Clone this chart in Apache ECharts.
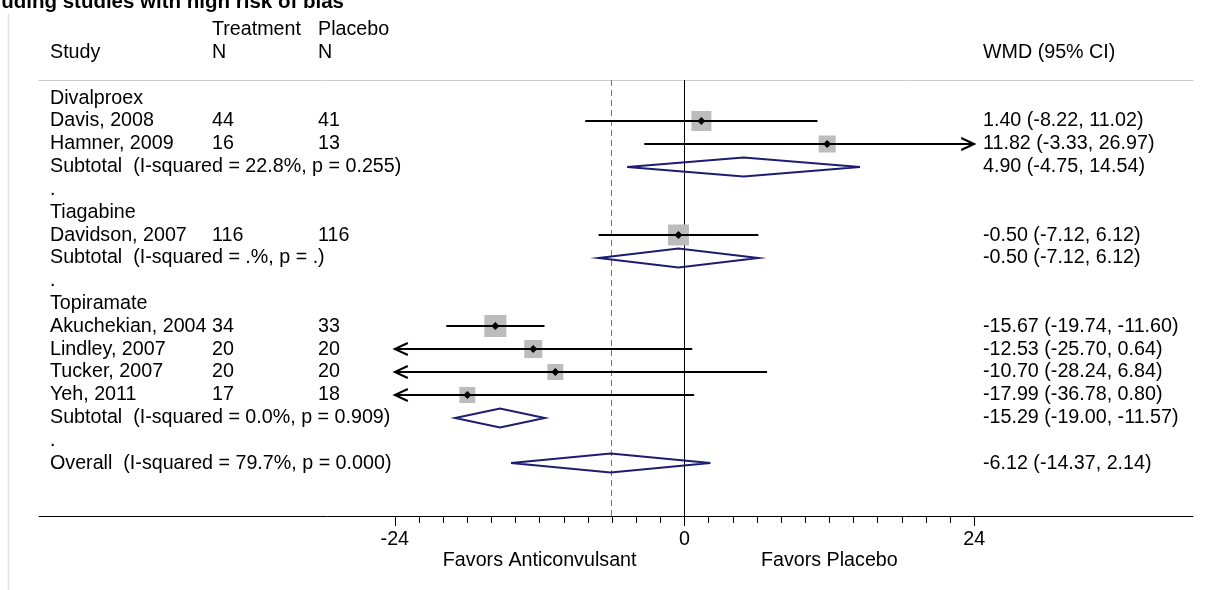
<!DOCTYPE html>
<html><head><meta charset="utf-8">
<script src="https://cdn.jsdelivr.net/npm/echarts@6/dist/echarts.min.js"></script>
<style>html,body{margin:0;padding:0;background:#fff;}#chart{width:1211px;height:590px;}</style>
</head><body><div id="chart"></div>
<script>
// ---------- data ----------
const titleText = 'Excluding studies with high risk of bias';
const headerTop = ['Treatment', 'Placebo'];
const headerBottom = ['Study', 'N', 'N', 'WMD (95% CI)'];
const rowLabels = [
  'Divalproex', 'Davis, 2008', 'Hamner, 2009', 'Subtotal  (I-squared = 22.8%, p = 0.255)', '.',
  'Tiagabine', 'Davidson, 2007', 'Subtotal  (I-squared = .%, p = .)', '.',
  'Topiramate', 'Akuchekian, 2004', 'Lindley, 2007', 'Tucker, 2007', 'Yeh, 2011',
  'Subtotal  (I-squared = 0.0%, p = 0.909)', '.', 'Overall  (I-squared = 79.7%, p = 0.000)'
];
const treatmentN = ['', '44', '16', '', '', '', '116', '', '', '', '34', '20', '20', '17', '', '', ''];
const placeboN   = ['', '41', '13', '', '', '', '116', '', '', '', '33', '20', '20', '18', '', '', ''];

const studyRows   = [1, 2, 6, 10, 11, 12, 13];
const studyEst    = [1.40, 11.82, -0.50, -15.67, -12.53, -10.70, -17.99];
const studyLo     = [-8.22, -3.33, -7.12, -19.74, -25.70, -28.24, -36.78];
const studyHi     = [11.02, 26.97, 6.12, -11.60, 0.64, 6.84, 0.80];
const studyWeight = [16.3, 11.8, 18.0, 19.8, 13.2, 10.4, 10.4];

const pooledRows = [3, 7, 14, 16];
const pooledEst  = [4.90, -0.50, -15.29, -6.12];
const pooledLo   = [-4.75, -7.12, -19.00, -14.37];
const pooledHi   = [14.54, 6.12, -11.57, 2.14];

const overallEst = -6.12;
const nullValue = 0;
const majorTicks = [-24, 0, 24];
const minorTicks = [-24, -22, -20, -18, -16, -14, -12, -10, -8, -6, -4, -2, 0, 2, 4, 6, 8, 10, 12, 14, 16, 18, 20, 22, 24];
const favorLabels = ['Favors Anticonvulsant', 'Favors Placebo'];
const favorPos = [-12, 12];
const clipMin = -24, clipMax = 24;

// ---------- layout ----------
const FONT_FAMILY = '"Liberation Sans", Arial, Helvetica, sans-serif';
const FS = 19.7;
const FONT = FS + 'px ' + FONT_FAMILY;
const X_MIN = -53.48, X_MAX = 42.13;
const Y_MIN = -0.8, Y_MAX = 18.31;
const COL_STUDY = 50, COL_T = 212, COL_P = 318, COL_WMD = 983;
const BOX_SCALE = 4.95;
const fmt = v => v.toFixed(2);

const wmdText = new Array(rowLabels.length).fill('');
studyRows.forEach((r, i) => { wmdText[r] = fmt(studyEst[i]) + ' (' + fmt(studyLo[i]) + ', ' + fmt(studyHi[i]) + ')'; });
pooledRows.forEach((r, i) => { wmdText[r] = fmt(pooledEst[i]) + ' (' + fmt(pooledLo[i]) + ', ' + fmt(pooledHi[i]) + ')'; });

function txt(text, x, y, align) {
  return { type: 'text', style: { text: text, x: x, y: y, font: FONT, fill: '#000',
    align: align || 'left', verticalAlign: 'middle', textAlign: align || 'left', textVerticalAlign: 'middle' } };
}

const chart = echarts.init(document.getElementById('chart'), null, { renderer: 'canvas' });

const baseX = { type: 'value', min: X_MIN, max: X_MAX, splitLine: { show: false } };

const option = {
  animation: false,
  backgroundColor: '#fff',
  grid: { left: 39, right: 18, top: 80, bottom: 74, containLabel: false },
  xAxis: [
    Object.assign({}, baseX, { position: 'bottom',
      axisLine: { show: true, onZero: false, lineStyle: { color: '#000', width: 1 } },
      axisTick: { show: true, customValues: minorTicks, length: 7, lineStyle: { color: '#000', width: 1 } },
      axisLabel: { show: false } }),
    Object.assign({}, baseX, { position: 'bottom',
      axisLine: { show: false, onZero: false },
      axisTick: { show: true, customValues: majorTicks, length: 10, lineStyle: { color: '#000', width: 1 } },
      axisLabel: { show: true, customValues: majorTicks, margin: 14, color: '#000', fontSize: FS, fontFamily: FONT_FAMILY } }),
    Object.assign({}, baseX, { position: 'bottom',
      axisLine: { show: false, onZero: false }, axisTick: { show: false },
      axisLabel: { show: true, customValues: favorPos, margin: 35, color: '#000', fontSize: FS, fontFamily: FONT_FAMILY,
        formatter: v => (v < 0 ? favorLabels[0] : favorLabels[1]) } }),
    Object.assign({}, baseX, { position: 'top',
      axisLine: { show: true, onZero: false, lineStyle: { color: '#cccccc', width: 1 } },
      axisTick: { show: false }, axisLabel: { show: false } })
  ],
  yAxis: { type: 'value', min: Y_MIN, max: Y_MAX, inverse: true, show: false },
  graphic: [
    { type: 'line', shape: { x1: 8.5, y1: 14, x2: 8.5, y2: 590 }, style: { stroke: '#dde3ea', lineWidth: 1.5 } },
    { type: 'text', style: { text: titleText, x: -41, y: 13, font: 'bold 20.5px ' + FONT_FAMILY, fill: '#000',
      verticalAlign: 'bottom', textVerticalAlign: 'bottom' } },
    txt(headerTop[0], COL_T, 30), txt(headerTop[1], COL_P, 30),
    txt(headerBottom[0], COL_STUDY, 53), txt(headerBottom[1], COL_T, 53), txt(headerBottom[2], COL_P, 53),
    txt(headerBottom[3], COL_WMD, 53)
  ],
  series: [
    { // reference lines
      type: 'custom', xAxisIndex: 0, yAxisIndex: 0, z: 1,
      data: [[nullValue], [overallEst]],
      renderItem: function (params, api) {
        const v = api.value(0);
        const p1 = api.coord([v, Y_MIN]), p2 = api.coord([v, Y_MAX]);
        const dashed = params.dataIndex === 1;
        return { type: 'line', shape: { x1: Math.round(p1[0]) + 0.5, y1: p1[1], x2: Math.round(p1[0]) + 0.5, y2: p2[1] },
          style: dashed ? { stroke: '#bb5a5a', lineWidth: 1, lineDash: [6, 4] } : { stroke: '#000', lineWidth: 1 } };
      }
    },
    { // study text columns
      type: 'custom', xAxisIndex: 0, yAxisIndex: 0, z: 3,
      data: rowLabels.map((l, i) => [0, i]),
      renderItem: function (params, api) {
        const i = params.dataIndex;
        const y = api.coord([0, api.value(1)])[1];
        const ch = [txt(rowLabels[i], COL_STUDY, y)];
        if (treatmentN[i]) ch.push(txt(treatmentN[i], COL_T, y));
        if (placeboN[i]) ch.push(txt(placeboN[i], COL_P, y));
        if (wmdText[i]) ch.push(txt(wmdText[i], COL_WMD, y));
        return { type: 'group', children: ch };
      }
    },
    { // individual studies
      type: 'custom', xAxisIndex: 0, yAxisIndex: 0, z: 4,
      data: studyRows.map((r, i) => [studyEst[i], r, studyLo[i], studyHi[i], studyWeight[i]]),
      renderItem: function (params, api) {
        const est = api.value(0), row = api.value(1), lo = api.value(2), hi = api.value(3), w = api.value(4);
        const pE = api.coord([est, row]);
        const pL = api.coord([Math.max(lo, clipMin), row]);
        const pH = api.coord([Math.min(hi, clipMax), row]);
        const y = Math.round(pE[1]);
        const side = BOX_SCALE * Math.sqrt(w);
        const ch = [
          { type: 'rect', shape: { x: pE[0] - side / 2, y: y - side / 2, width: side, height: side }, style: { fill: '#bcbcbc' } },
          { type: 'line', shape: { x1: pL[0], y1: y, x2: pH[0], y2: y }, style: { stroke: '#000', lineWidth: 2 } }
        ];
        if (lo < clipMin) ch.push({ type: 'polyline', shape: { points: [[pL[0] + 13, y - 6], [pL[0], y], [pL[0] + 13, y + 6]] },
          style: { stroke: '#000', fill: null, lineWidth: 2 } });
        if (hi > clipMax) ch.push({ type: 'polyline', shape: { points: [[pH[0] - 13, y - 6], [pH[0], y], [pH[0] - 13, y + 6]] },
          style: { stroke: '#000', fill: null, lineWidth: 2 } });
        ch.push({ type: 'polygon', shape: { points: [[pE[0] - 4, y], [pE[0], y - 4], [pE[0] + 4, y], [pE[0], y + 4]] },
          style: { fill: '#000' } });
        return { type: 'group', children: ch };
      }
    },
    { // pooled diamonds
      type: 'custom', xAxisIndex: 0, yAxisIndex: 0, z: 4,
      data: pooledRows.map((r, i) => [pooledEst[i], r, pooledLo[i], pooledHi[i]]),
      renderItem: function (params, api) {
        const est = api.value(0), row = api.value(1), lo = api.value(2), hi = api.value(3);
        const pE = api.coord([est, row]), pL = api.coord([lo, row]), pH = api.coord([hi, row]);
        const y = Math.round(pE[1]);
        const h = 9.5;
        return { type: 'polygon', shape: { points: [[pL[0], y], [pE[0], y - h], [pH[0], y], [pE[0], y + h]] },
          style: { stroke: '#1c1c72', lineWidth: 2, fill: null, lineJoin: 'miter' } };
      }
    }
  ]
};
chart.setOption(option);
</script></body></html>
